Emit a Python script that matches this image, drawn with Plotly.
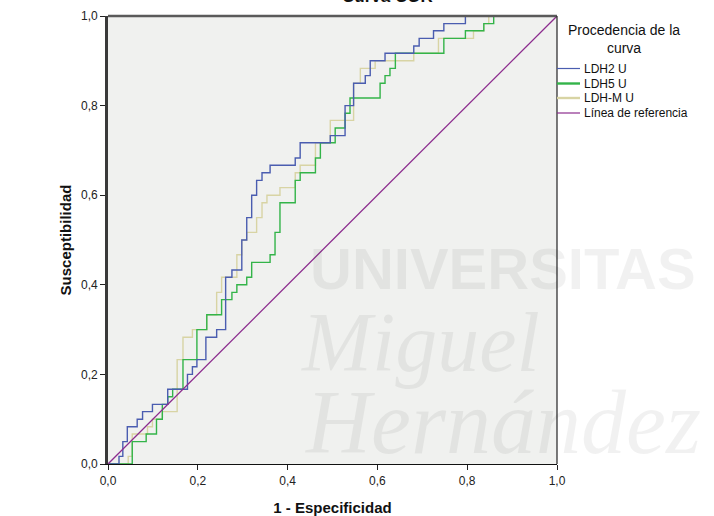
import plotly.graph_objects as go

# ROC corner points (1 - especificidad, susceptibilidad), drawn as steps
ldh2_fpr = [0, .0245, .033, .043, .065, .077, .099, .133, .177, .188,
            .198, .218, .242, .262, .276, .298, .309, .320, .331, .343,
            .361, .417, .428, .495, .528, .547, .573, .584, .617, .681,
            .693, .725, .748, .796, 1.0]
ldh2_tpr = [0, .017, .050, .083, .100, .117, .133, .167, .200, .217,
            .233, .283, .300, .417, .433, .500, .550, .600, .633, .650,
            .667, .683, .717, .733, .800, .850, .867, .900, .917, .933,
            .950, .967, .983, 1.0, 1.0]

ldh5_fpr = [0, .054, .085, .108, .121, .133, .144, .167, .198, .220,
            .253, .276, .287, .309, .320, .361, .372, .383, .417, .428,
            .462, .473, .506, .528, .539, .606, .617, .628, .640, .748,
            .796, .837, .859, 1.0]
ldh5_tpr = [0, .050, .067, .100, .133, .150, .167, .233, .300, .333,
            .367, .383, .400, .417, .450, .467, .517, .583, .633, .650,
            .683, .717, .750, .783, .817, .850, .867, .883, .917, .950,
            .967, .983, 1.0, 1.0]

ldhm_fpr = [0, .045, .054, .088, .099, .121, .154, .167, .188, .220,
            .242, .253, .287, .298, .309, .331, .343, .354, .383, .417,
            .428, .462, .495, .547, .562, .595, .681, .736, .814, .837,
            .848, 1.0]
ldhm_tpr = [0, .017, .067, .083, .100, .117, .233, .283, .300, .333,
            .383, .417, .467, .500, .517, .550, .583, .600, .617, .650,
            .667, .717, .767, .850, .883, .900, .917, .950, .967, .983,
            1.0, 1.0]

ref_x = [0, 1]
ref_y = [0, 1]

series_names = ["LDH2 U", "LDH5 U", "LDH-M U", "Línea de referencia"]
series_colors = ["#4a5db0", "#33b449", "#d8d4a4", "#8c2c8e"]
legend_widths = [1.2, 2.4, 2.4, 1.2]
tick_vals = [0, 0.2, 0.4, 0.6, 0.8, 1.0]

fig = go.Figure()
curves = [(ldh2_fpr, ldh2_tpr), (ldh5_fpr, ldh5_tpr), (ldhm_fpr, ldhm_tpr)]
# draw tan first so blue/green sit on top
for idx in [2, 1, 0]:
    xs, ys = curves[idx]
    fig.add_trace(go.Scatter(
        x=xs, y=ys, mode="lines", name=series_names[idx],
        line=dict(color=series_colors[idx], width=1.4, shape="hv"),
        showlegend=False, cliponaxis=False))
fig.add_trace(go.Scatter(
    x=ref_x, y=ref_y, mode="lines", name=series_names[3],
    line=dict(color=series_colors[3], width=1.3),
    showlegend=False, cliponaxis=False))

W, H = 714, 516
L, R, T, B = 108, 157, 16, 52
pw, ph = W - L - R, H - T - B


def px(x):
    return (x - L) / pw


def py(y):
    return (H - B - y) / ph


def note(text, x, y, size, color="#111", family="Liberation Sans, Arial",
         xanchor="center", yanchor="middle", **kw):
    return dict(text=text, xref="paper", yref="paper", x=px(x), y=py(y),
                xanchor=xanchor, yanchor=yanchor, showarrow=False,
                font=dict(family=family, size=size, color=color), **kw)


shapes = [
    # top and right frame
    dict(type="line", xref="paper", yref="paper", x0=0, x1=1, y0=1, y1=1,
         line=dict(color="#5a5a5a", width=2.5)),
    dict(type="line", xref="paper", yref="paper", x0=1, x1=1, y0=0, y1=1,
         line=dict(color="#222222", width=1.2)),
]

# faint background lettering
wm = "rgba(0,0,0,0.055)"
serif = "Liberation Serif, Times New Roman"
annotations = [
    note("<b>UNIVERSITAS</b>", 503, 268, 58, wm),
    note("<i>Miguel</i>", 420, 342, 84, wm, family=serif),
    note("<i>Hernández</i>", 503, 422, 90, wm, family=serif),
]

# chart title, mostly above the page edge
annotations.append(note("<b>Curva COR</b>", 387, 8, 17, yanchor="bottom"))

# legend block
annotations.append(note("Procedencia de la<br>curva", 624, 39, 14, align="center"))
legend_rows = [68.5, 83.5, 98, 113]
for name, color, lw, row in zip(series_names, series_colors, legend_widths, legend_rows):
    shapes.append(dict(type="line", xref="paper", yref="paper",
                       x0=px(557), x1=px(580), y0=py(row), y1=py(row),
                       line=dict(color=color, width=lw)))
    annotations.append(note(name, 582, row, 12, xanchor="left"))

axis_common = dict(
    range=[0, 1], tickvals=tick_vals, tickformat=".1f",
    ticks="outside", ticklen=5, tickwidth=1, tickcolor="#222",
    showgrid=False, zeroline=False, showline=True, automargin=False,
    tickfont=dict(family="Liberation Sans, Arial", size=12, color="#222"),
)

fig.update_layout(
    width=W, height=H,
    margin=dict(l=L, r=R, t=T, b=B),
    paper_bgcolor="white",
    plot_bgcolor="#f0f1ef",
    separators=",.",
    showlegend=False,
    xaxis=dict(**axis_common, linecolor="#111", linewidth=1.2,
               title=dict(text="<b>1 - Especificidad</b>", standoff=17,
                          font=dict(family="Liberation Sans, Arial", size=15, color="#111"))),
    yaxis=dict(**axis_common, linecolor="#3a3a3a", linewidth=2.6,
               title=dict(text="<b>Susceptibilidad</b>", standoff=6,
                          font=dict(family="Liberation Sans, Arial", size=15, color="#111"))),
    shapes=shapes,
    annotations=annotations,
)

fig.write_html("out.html")
